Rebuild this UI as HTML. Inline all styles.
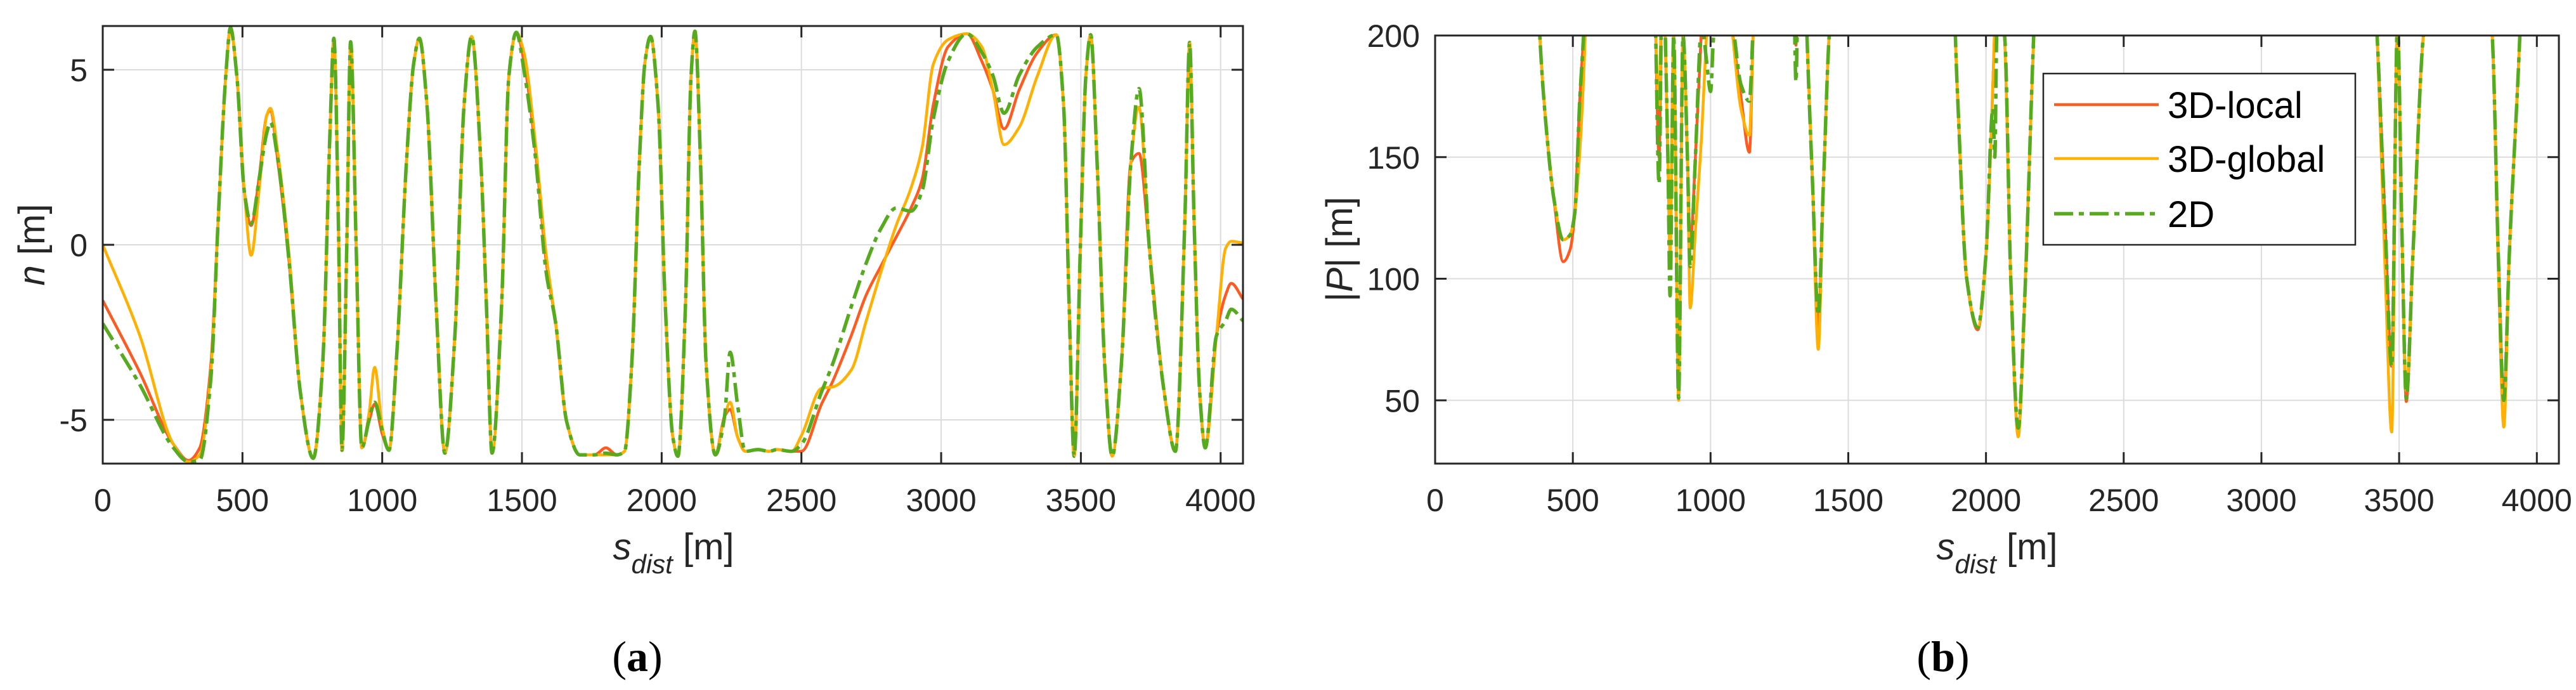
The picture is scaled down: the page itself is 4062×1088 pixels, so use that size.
<!DOCTYPE html>
<html><head><meta charset="utf-8"><style>
html,body{margin:0;padding:0;background:#fff;}
svg{display:block;font-family:"Liberation Sans",Arial,sans-serif;}
</style></head><body>
<svg id="fig" width="4062" height="1088" viewBox="0 0 4062 1088" xmlns="http://www.w3.org/2000/svg">
<defs>
<clipPath id="clipA"><rect x="162" y="41" width="1798" height="690"/></clipPath>
<clipPath id="clipB"><rect x="2263" y="56" width="1772" height="675"/></clipPath>
</defs>
<g id="panelA"></g>
<g id="panelB"></g>
<text x="1062" y="882" font-size="58" text-anchor="middle" fill="#262626"><tspan font-style="italic">s</tspan><tspan font-style="italic" font-size="42" dy="22">dist</tspan><tspan dy="-22"> [m]</tspan></text>
<text x="3149" y="882" font-size="58" text-anchor="middle" fill="#262626"><tspan font-style="italic">s</tspan><tspan font-style="italic" font-size="42" dy="22">dist</tspan><tspan dy="-22"> [m]</tspan></text>
<text transform="translate(70,386) rotate(-90)" font-size="58" text-anchor="middle" fill="#262626"><tspan font-style="italic">n</tspan> [m]</text>
<text transform="translate(2132,393) rotate(-90)" font-size="58" text-anchor="middle" fill="#262626">|<tspan font-style="italic">P</tspan>| [m]</text>
<text x="1005" y="1058" font-size="68" text-anchor="middle" fill="#000" font-family="Liberation Serif, serif">(<tspan font-weight="bold">a</tspan>)</text>
<text x="3064" y="1058" font-size="68" text-anchor="middle" fill="#000" font-family="Liberation Serif, serif">(<tspan font-weight="bold">b</tspan>)</text>
<g>
<rect x="3222" y="116" width="492" height="270" fill="#fff" stroke="#262626" stroke-width="2.5"/>
<g><line x1="3239" y1="165" x2="3404" y2="165" stroke="#FF5A1F" stroke-width="4.5"/><text x="3418" y="186" font-size="58" fill="#000">3D-local</text></g>
<g><line x1="3239" y1="250" x2="3404" y2="250" stroke="#FFB000" stroke-width="4.5"/><text x="3418" y="271" font-size="58" fill="#000">3D-global</text></g>
<g><line x1="3239" y1="337" x2="3404" y2="337" stroke="#55AA1E" stroke-width="5.5" stroke-dasharray="30 9 8 9"/><text x="3418" y="358" font-size="58" fill="#000">2D</text></g>
</g>
</svg>
<script>
// ---- panel (a) data: lateral offset n [m] ----
const nS = [0,133,253,307,347,387,413,440,457,480,507,531,560,587,600,627,667,707,753,787,813,827,843,856,873,887,907,927,953,973,1000,1024,1053,1087,1113,1133,1160,1193,1224,1260,1293,1320,1353,1373,1393,1427,1453,1480,1507,1547,1587,1620,1660,1707,1760,1800,1840,1867,1893,1920,1940,1960,1987,2013,2040,2058,2085,2105,2119,2139,2159,2192,2225,2245,2272,2299,2345,2385,2412,2465,2500,2572,2612,2679,2732,2785,2839,2892,2932,2972,3025,3092,3145,3185,3225,3279,3345,3412,3438,3458,3476,3498,3518,3535,3558,3585,3612,3645,3679,3708,3745,3798,3838,3872,3889,3905,3925,3945,3985,4018,4038,4080];
const nLocal = [-1.59,-3.65,-5.7,-6.16,-5.8,-3.4,0.7,4.8,6.2,4.8,1.5,0.55,1.95,3.7,3.85,2.35,-0.5,-4.2,-6.1,-3.4,3.2,5.9,0.7,-5.87,-0.1,5.8,-0.1,-5.8,-5.05,-4.55,-5.4,-5.87,-3.0,2.4,5.2,5.9,4.0,-1.75,-5.95,-2.6,4.0,5.95,2.35,-1.75,-5.95,-1.75,4.8,6.07,5.25,2.8,-0.5,-2.2,-5.05,-6.0,-6.0,-5.8,-6.0,-5.9,-3.4,2.35,5.2,5.95,4.0,-1.75,-5.5,-6.04,-1.75,4.8,6.1,2.35,-3.4,-6.0,-4.9,-4.7,-5.5,-5.9,-5.85,-5.9,-5.85,-5.9,-5.9,-4.55,-3.9,-2.58,-1.43,-0.6,0.22,1.05,1.87,4.0,5.66,6.03,5.25,4.42,3.31,4.42,5.5,6.0,4.0,-1.75,-6.04,-0.1,4.84,6.0,2.35,-3.4,-6.04,-3.4,2.35,2.61,-0.1,-4.2,-5.9,0.7,5.78,0.7,-4.2,-5.8,-2.6,-1.43,-1.1,-1.55];
const nGlobal = [0.0,-2.6,-5.7,-6.2,-6.0,-3.6,0.7,4.8,6.2,4.8,1.5,-0.3,1.6,3.7,3.9,2.6,-0.3,-4.2,-6.1,-3.4,3.2,5.9,0.7,-5.87,-0.1,5.8,-0.1,-5.8,-4.8,-3.5,-5.2,-5.87,-3.0,2.4,5.2,5.9,4.0,-1.75,-5.95,-2.6,4.0,5.95,2.35,-1.75,-5.95,-1.75,4.8,6.07,5.5,3.0,-0.3,-2.2,-5.05,-6.0,-6.0,-6.0,-6.0,-5.9,-3.4,2.35,5.2,5.95,4.0,-1.75,-5.5,-6.04,-1.75,4.8,6.1,2.35,-3.4,-6.0,-4.9,-4.5,-5.5,-5.9,-5.85,-5.9,-5.85,-5.9,-5.45,-4.1,-4.06,-3.57,-2.17,-0.77,0.55,1.62,2.78,5.16,5.86,6.03,5.66,4.42,2.86,3.35,4.84,6.0,4.0,-1.75,-6.04,-0.1,4.84,6.0,2.35,-3.4,-6.04,-3.4,2.35,3.93,-0.1,-4.2,-5.9,0.7,5.78,0.7,-4.2,-5.8,-2.6,-0.1,0.1,0.05];
const n2D = [-2.25,-4.0,-5.8,-6.2,-6.15,-3.8,0.7,4.8,6.2,4.8,1.5,0.6,1.9,3.2,3.5,2.4,-0.5,-4.2,-6.1,-3.4,3.2,5.9,0.7,-5.87,-0.1,5.8,-0.1,-5.8,-5.0,-4.5,-5.3,-5.87,-3.0,2.4,5.2,5.9,4.0,-1.75,-5.95,-2.6,4.0,5.95,2.35,-1.75,-5.95,-1.75,4.8,6.07,5.0,2.6,-0.8,-2.2,-5.05,-6.0,-6.0,-5.95,-6.0,-5.9,-3.4,2.35,5.2,5.95,4.0,-1.75,-5.5,-6.04,-1.75,4.8,6.1,2.35,-3.4,-6.0,-4.9,-3.07,-4.6,-5.9,-5.85,-5.9,-5.85,-5.9,-5.7,-4.2,-3.4,-1.75,-0.52,0.47,1.05,0.96,1.54,3.6,5.25,6.03,5.5,4.84,3.76,4.84,5.66,6.0,4.0,-1.75,-6.04,-0.1,4.84,6.0,2.35,-3.4,-6.04,-3.4,2.35,4.46,-0.1,-4.2,-5.9,0.7,5.78,0.7,-4.2,-5.8,-2.6,-2.17,-1.84,-2.17];
const nTicks = [-5,0,5];
const sTicks = [0,500,1000,1500,2000,2500,3000,3500,4000];

// ---- panel (b) data: radius |P| [m] (values above 200 are clipped) ----
const pS = [0,370,380,405,431,465,490,507,524,545,555,790,800,813,825,845,853,866,884,900,916,926,945,968,985,1000,1012,1075,1110,1141,1159,1300,1310,1320,1345,1350,1370,1391,1410,1436,1880,1895,1930,1970,2000,2025,2032,2040,2067,2090,2117,2140,2175,2190,3400,3420,3450,3473,3494,3510,3526,3550,3595,3820,3838,3860,3880,3900,3940,3950,4080];
const pLocal = [260,230,200,160,133,107,112,127,171,215,260,260,205,150,230,150,110,200,51,200,150,114,150,205,240,250,250,205,175,152,210,230,196,230,220,200,140,80,140,205,220,180,100,79,110,180,205,230,200,100,36,90,205,240,240,200,120,64,205,120,49.5,110,205,220,200,110,50,110,205,240,260];
const pGlobal = [260,230,200,160,133,116,118,127,150,200,240,260,205,170,230,150,110,200,50,200,150,88,120,160,200,240,250,205,170,159,210,230,230,230,220,200,140,71,140,205,220,180,100,80,110,180,205,230,200,100,35,90,205,240,240,200,100,37,205,120,54,110,205,220,200,105,39,110,205,240,260];
const p2D = [260,230,200,160,133,116,118,127,171,215,260,260,205,139,230,150,93,200,51,200,150,105,150,205,190,177,200,205,180,173,210,230,181,230,220,200,140,85,140,205,220,180,100,80,110,170,150,205,200,100,38.6,90,205,240,240,200,120,64,205,120,50.7,110,205,220,200,110,50,110,205,240,260];
const pTicks = [50,100,150,200];

const NS = "http://www.w3.org/2000/svg";
function mk(tag, attrs, parent){const e=document.createElementNS(NS,tag);for(const k in attrs)e.setAttribute(k,attrs[k]);parent.appendChild(e);return e;}

function monoPath(xs, ys){
  const n=xs.length, d=[], m=new Array(n).fill(0);
  for(let i=0;i<n-1;i++) d.push((ys[i+1]-ys[i])/(xs[i+1]-xs[i]));
  m[0]=d[0]; m[n-1]=d[n-2];
  for(let i=1;i<n-1;i++){ if(d[i-1]*d[i]<=0) m[i]=0; else { const w1=2*(xs[i+1]-xs[i])+(xs[i]-xs[i-1]), w2=(xs[i+1]-xs[i])+2*(xs[i]-xs[i-1]); m[i]=(w1+w2)/(w1/d[i-1]+w2/d[i]); } }
  let p="M"+xs[0].toFixed(2)+","+ys[0].toFixed(2);
  for(let i=0;i<n-1;i++){ const h=(xs[i+1]-xs[i])/3;
    p+=" C"+(xs[i]+h).toFixed(2)+","+(ys[i]+m[i]*h).toFixed(2)+" "+(xs[i+1]-h).toFixed(2)+","+(ys[i+1]-m[i+1]*h).toFixed(2)+" "+xs[i+1].toFixed(2)+","+ys[i+1].toFixed(2);}
  return p;
}

function panel(g, cfg){
  const {x0,x1,y0,y1,xmax,ymin,ymax,yTicks,clip,xs,series} = cfg;
  const X = v => x0 + (v/xmax)*(x1-x0);
  const Y = v => y1 - (v-ymin)/(ymax-ymin)*(y1-y0);
  // grid
  sTicks.forEach(t=>{
    const l=mk('line',{x1:X(t),x2:X(t),y1:y0,y2:y1,stroke:'#dcdcdc','stroke-width':2},g);
    
    
  });
  yTicks.forEach(t=>{
    const l=mk('line',{x1:x0,x2:x1,y1:Y(t),y2:Y(t),stroke:'#dcdcdc','stroke-width':2},g);
    
    
  });
  // series
  const sg=mk('g',{'clip-path':'url(#'+clip+')'},g);
  series.forEach(s=>{
    const px=xs.map(X), py=s.v.map(Y);
    const attrs={d:monoPath(px,py),fill:'none',stroke:s.c,'stroke-width':s.w,'stroke-linejoin':'round'};
    if(s.dash) attrs['stroke-dasharray']=s.dash;
    const p=mk('path',attrs,sg);
    
    
  });
  // box
  const b=mk('rect',{x:x0,y:y0,width:x1-x0,height:y1-y0,fill:'none',stroke:'#262626','stroke-width':3},g);
  
  
  // ticks & labels
  sTicks.forEach(t=>{
    mk('line',{x1:X(t),x2:X(t),y1:y1,y2:y1-18,stroke:'#262626','stroke-width':3},g);
    mk('line',{x1:X(t),x2:X(t),y1:y0,y2:y0+18,stroke:'#262626','stroke-width':3},g);
    const tx=mk('text',{x:X(t),y:y1+75,'font-size':50,'text-anchor':'middle',fill:'#262626'},g);
    tx.textContent=t;
    
    
  });
  yTicks.forEach(t=>{
    mk('line',{x1:x0,x2:x0+18,y1:Y(t),y2:Y(t),stroke:'#262626','stroke-width':3},g);
    mk('line',{x1:x1,x2:x1-18,y1:Y(t),y2:Y(t),stroke:'#262626','stroke-width':3},g);
    const tx=mk('text',{x:x0-24,y:Y(t)+18,'font-size':50,'text-anchor':'end',fill:'#262626'},g);
    tx.textContent=t;
    
    
  });
}

panel(document.getElementById('panelA'),{x0:162,x1:1960,y0:41,y1:731,xmax:4080,ymin:-6.25,ymax:6.25,yTicks:nTicks,clip:'clipA',xs:nS,
  series:[{v:nLocal,c:'#FF5A1F',w:4.5,name:'series-3d-local-n'},{v:nGlobal,c:'#FFB000',w:4.5,name:'series-3d-global-n'},{v:n2D,c:'#55AA1E',w:5.5,dash:'30 9 8 9',name:'series-2d-n'}]});
panel(document.getElementById('panelB'),{x0:2263,x1:4035,y0:56,y1:731,xmax:4080,ymin:24,ymax:200,yTicks:pTicks,clip:'clipB',xs:pS,
  series:[{v:pLocal,c:'#FF5A1F',w:4.5,name:'series-3d-local-p'},{v:pGlobal,c:'#FFB000',w:4.5,name:'series-3d-global-p'},{v:p2D,c:'#55AA1E',w:5.5,dash:'30 9 8 9',name:'series-2d-p'}]});
</script>
</body></html>
